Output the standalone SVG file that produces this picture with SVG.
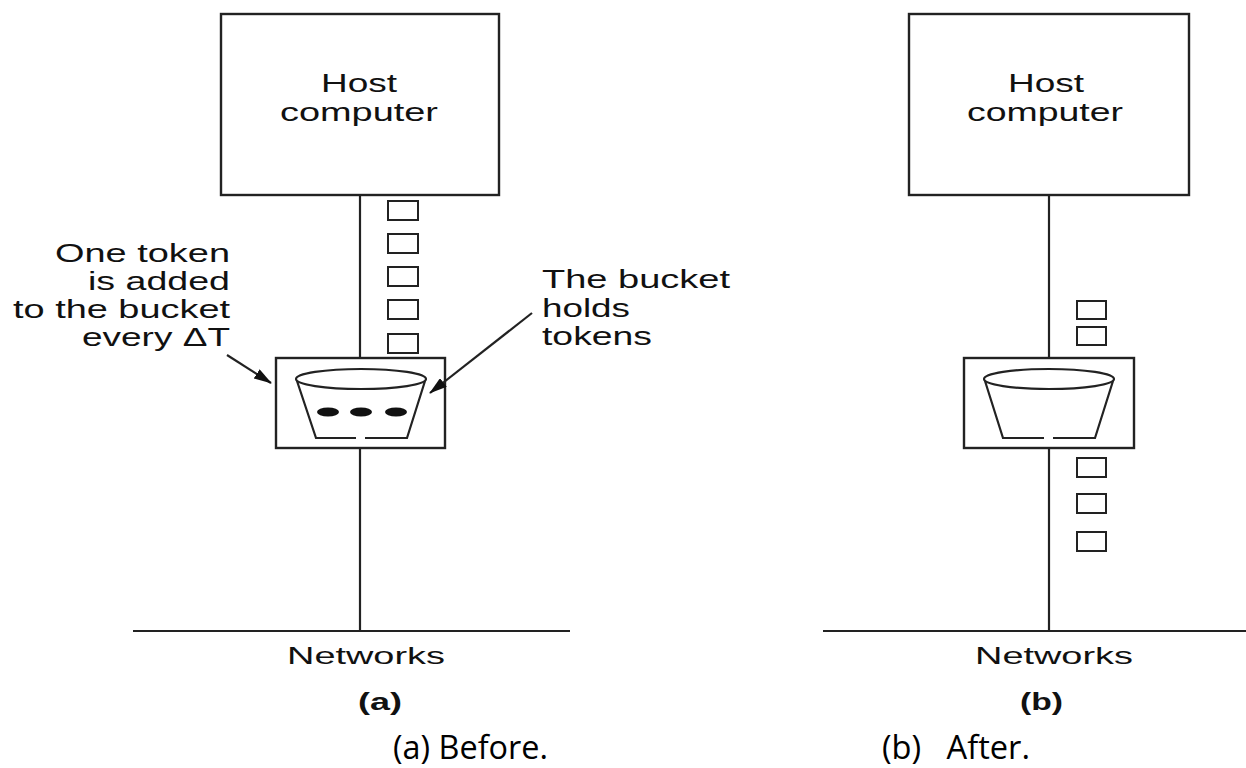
<svg xmlns="http://www.w3.org/2000/svg" width="1246" height="768" viewBox="0 0 1246 768">
<style>
.ln{stroke:#222;stroke-width:2.2;fill:none}
.box{stroke:#222;stroke-width:2.4;fill:#fff}
.tok{stroke:#222;stroke-width:2;fill:#fff}
.t{font-family:"Liberation Sans",Arial,sans-serif;font-size:26px;fill:#111}
.h{font-family:"Liberation Sans",Arial,sans-serif;font-size:25px;fill:#111}
.n{font-family:"Liberation Sans",Arial,sans-serif;font-size:24px;fill:#111}
.b{font-family:"Liberation Sans",Arial,sans-serif;font-size:24px;font-weight:bold;fill:#111}
.c{font-family:"Open Sans","Liberation Sans",sans-serif;font-size:33px;fill:#000;white-space:pre}
</style>
<defs>
<marker id="ah" markerWidth="18" markerHeight="11" refX="17" refY="5.5" orient="auto" markerUnits="userSpaceOnUse">
<path d="M0,0 L18,5.5 L0,11 Z" fill="#111"/>
</marker>
</defs>
<rect width="1246" height="768" fill="#fff"/>

<g id="host-a">
<rect class="box" x="221" y="14" width="278" height="181"/>
<text class="h" x="321" y="92" textLength="76" lengthAdjust="spacingAndGlyphs">Host</text>
<text class="h" x="280" y="121" textLength="158" lengthAdjust="spacingAndGlyphs">computer</text>
</g>

<g id="tokens-a">
<rect class="tok" x="388" y="201" width="30" height="19"/>
<rect class="tok" x="388" y="234" width="30" height="19"/>
<rect class="tok" x="388" y="267" width="30" height="19"/>
<rect class="tok" x="388" y="300" width="30" height="19"/>
<rect class="tok" x="388" y="334" width="30" height="19"/>
</g>

<g id="bucket-a">
<rect class="box" x="276" y="358" width="169" height="90"/>
<ellipse class="ln" cx="361" cy="379" rx="65" ry="10"/>
<path class="ln" d="M297,381 L316,438 L356,438 M365,438 L407,438 L425,381"/>
<ellipse cx="328" cy="412" rx="11" ry="4.5" fill="#111"/>
<ellipse cx="361" cy="412" rx="11" ry="4.5" fill="#111"/>
<ellipse cx="396" cy="412" rx="11" ry="4.5" fill="#111"/>
</g>

<g id="label-left">
<text class="t" x="55" y="262" textLength="175" lengthAdjust="spacingAndGlyphs">One token</text>
<text class="t" x="88" y="290" textLength="142" lengthAdjust="spacingAndGlyphs">is added</text>
<text class="t" x="13" y="318" textLength="217" lengthAdjust="spacingAndGlyphs">to the bucket</text>
<text class="t" x="82" y="346" textLength="148" lengthAdjust="spacingAndGlyphs">every ΔT</text>
</g>

<g id="label-right">
<text class="t" x="542" y="288" textLength="188" lengthAdjust="spacingAndGlyphs">The bucket</text>
<text class="t" x="542" y="317" textLength="88" lengthAdjust="spacingAndGlyphs">holds</text>
<text class="t" x="542" y="345" textLength="110" lengthAdjust="spacingAndGlyphs">tokens</text>
</g>

<g id="network-a">
<text class="n" x="287" y="664" textLength="158" lengthAdjust="spacingAndGlyphs">Networks</text>
<text class="b" x="358" y="710" textLength="44" lengthAdjust="spacingAndGlyphs">(a)</text>
</g>

<g id="host-b">
<rect class="box" x="909" y="14" width="280" height="181"/>
<text class="h" x="1008" y="92" textLength="76" lengthAdjust="spacingAndGlyphs">Host</text>
<text class="h" x="967" y="121" textLength="156" lengthAdjust="spacingAndGlyphs">computer</text>
</g>

<g id="tokens-b">
<rect class="tok" x="1077" y="301" width="29" height="18"/>
<rect class="tok" x="1077" y="327" width="29" height="18"/>
<rect class="tok" x="1077" y="458" width="29" height="19"/>
<rect class="tok" x="1077" y="494" width="29" height="19"/>
<rect class="tok" x="1077" y="532" width="29" height="19"/>
</g>

<g id="bucket-b">
<rect class="box" x="964" y="358" width="170" height="90"/>
<ellipse class="ln" cx="1049" cy="379" rx="65" ry="10"/>
<path class="ln" d="M985,381 L1003,438 L1044,438 M1053,438 L1095,438 L1113,381"/>
</g>

<g id="network-b">
<text class="n" x="975" y="664" textLength="158" lengthAdjust="spacingAndGlyphs">Networks</text>
<text class="b" x="1020" y="710" textLength="43" lengthAdjust="spacingAndGlyphs">(b)</text>
</g>

<g id="captions">
<text class="c" x="393" y="759" textLength="155" lengthAdjust="spacingAndGlyphs">(a) Before.</text>
<text class="c" x="882" y="759" textLength="148" lengthAdjust="spacingAndGlyphs">(b)   After.</text>
</g>

<g id="connectors">
<line class="ln" x1="360" y1="196" x2="360" y2="357"/>
<line class="ln" x1="360" y1="449" x2="360" y2="631"/>
<line class="ln" x1="133" y1="631" x2="570" y2="631"/>
<line class="ln" x1="1049" y1="196" x2="1049" y2="357"/>
<line class="ln" x1="1049" y1="449" x2="1049" y2="631"/>
<line class="ln" x1="823" y1="631" x2="1246" y2="631"/>
<line class="ln" x1="227" y1="355" x2="271" y2="383" marker-end="url(#ah)"/>
<line class="ln" x1="532" y1="313" x2="430" y2="393" marker-end="url(#ah)"/>
</g>
</svg>
